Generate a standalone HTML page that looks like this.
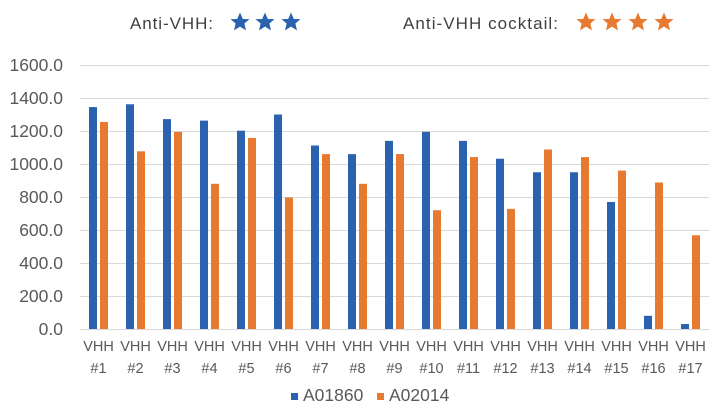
<!DOCTYPE html>
<html><head><meta charset="utf-8"><style>
html,body{margin:0;padding:0;background:#fff;}
svg{display:block;}
text{font-family:"Liberation Sans",sans-serif;fill:#595959;}
</style></head><body>
<svg width="720" height="420" viewBox="0 0 720 420" xmlns="http://www.w3.org/2000/svg">
<defs>
<path id="star" d="M0,-9.5 L2.8,-3 L9.5,-2.9 L4.4,1.5 L6,8.4 L0,4.6 L-6,8.4 L-4.4,1.5 L-9.5,-2.9 L-2.8,-3 Z"/>
</defs>
<text x="130" y="29" font-size="17" textLength="83" style="fill:#404040">Anti-VHH:</text>
<use href="#star" x="240" y="22" fill="#2a62b0"/>
<use href="#star" x="265" y="22" fill="#2a62b0"/>
<use href="#star" x="291" y="22" fill="#2a62b0"/>
<text x="403" y="29" font-size="17" textLength="155" style="fill:#404040">Anti-VHH cocktail:</text>
<use href="#star" x="586" y="22" fill="#e67a30"/>
<use href="#star" x="612" y="22" fill="#e67a30"/>
<use href="#star" x="638" y="22" fill="#e67a30"/>
<use href="#star" x="664" y="22" fill="#e67a30"/>
<g stroke="#d9d9d9" stroke-width="1">
<line x1="80" x2="709" y1="65.5" y2="65.5"/>
<line x1="80" x2="709" y1="98.5" y2="98.5"/>
<line x1="80" x2="709" y1="131.5" y2="131.5"/>
<line x1="80" x2="709" y1="164.5" y2="164.5"/>
<line x1="80" x2="709" y1="197.5" y2="197.5"/>
<line x1="80" x2="709" y1="230.5" y2="230.5"/>
<line x1="80" x2="709" y1="263.5" y2="263.5"/>
<line x1="80" x2="709" y1="296.5" y2="296.5"/>
<line x1="80" x2="709" y1="329.5" y2="329.5"/>
</g>
<g font-size="17.5" text-anchor="end">
<text x="63" y="71">1600.0</text>
<text x="63" y="104">1400.0</text>
<text x="63" y="137">1200.0</text>
<text x="63" y="170">1000.0</text>
<text x="63" y="203">800.0</text>
<text x="63" y="236">600.0</text>
<text x="63" y="269">400.0</text>
<text x="63" y="302">200.0</text>
<text x="63" y="335">0.0</text>
</g>
<g id="bars"></g>
<g id="labels" font-size="14.5" text-anchor="middle"></g>
<rect x="291" y="393" width="7" height="7" fill="#2a62b0"/>
<text x="303" y="401" font-size="17.5">A01860</text>
<rect x="377" y="393" width="7" height="7" fill="#e67a30"/>
<text x="389" y="401" font-size="17.5">A02014</text>
<script>
var b=[1345,1362,1272,1263,1202,1300,1112,1060,1140,1195,1140,1032,950,950,770,80,30];
var o=[1255,1077,1195,880,1158,797,1060,880,1060,720,1042,728,1088,1042,960,888,568];
var ns="http://www.w3.org/2000/svg",g=document.getElementById("bars"),L=document.getElementById("labels");
function r(x,v,c){var e=document.createElementNS(ns,"rect");var h=v*33/200;e.setAttribute("x",x);e.setAttribute("y",329-h);e.setAttribute("width",8);e.setAttribute("height",h);e.setAttribute("fill",c);g.appendChild(e);}
function t(x,y,s){var e=document.createElementNS(ns,"text");e.setAttribute("x",x);e.setAttribute("y",y);e.textContent=s;L.appendChild(e);}
for(var i=0;i<17;i++){var x0=80+i*37;r(x0+9,b[i],"#2a62b0");r(x0+20,o[i],"#e67a30");t(x0+18.5,351,"VHH");t(x0+18.5,373,"#"+(i+1));}
</script>
</svg>
</body></html>
